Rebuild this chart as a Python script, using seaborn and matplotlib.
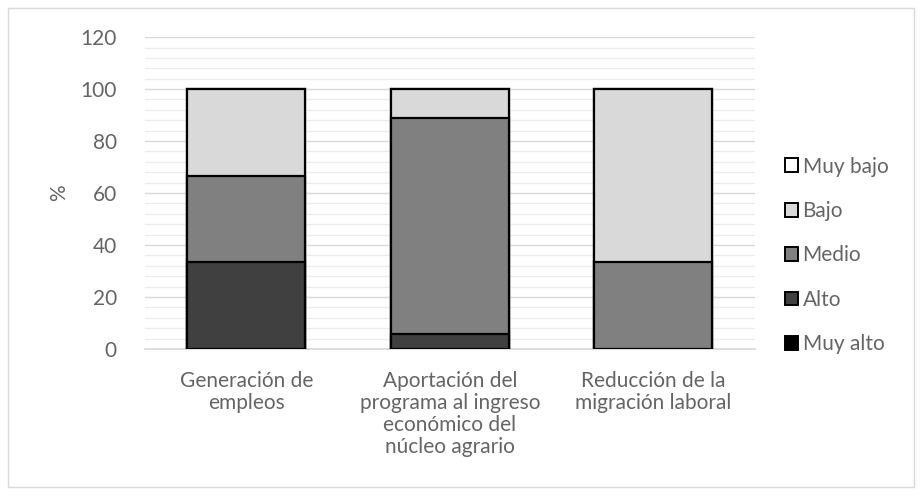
import matplotlib
matplotlib.use("Agg")
import matplotlib.pyplot as plt
from matplotlib.patches import Patch, Rectangle
from matplotlib.ticker import MultipleLocator
import numpy as np
import pandas as pd
import seaborn as sns

categories = [
    "Generación de\nempleos",
    "Aportación del\nprograma al ingreso\neconómico del\nnúcleo agrario",
    "Reducción de la\nmigración laboral",
]
levels = ["Muy alto", "Alto", "Medio", "Bajo", "Muy bajo"]
muy_alto = [0.0, 0.0, 0.0]
alto = [33.3, 5.6, 0.0]
medio = [33.3, 83.3, 33.3]
bajo = [33.4, 11.1, 66.7]
muy_bajo = [0.0, 0.0, 0.0]
yticks = [0, 20, 40, 60, 80, 100, 120]

colors = {
    "Muy alto": "#000000",
    "Alto": "#404040",
    "Medio": "#808080",
    "Bajo": "#d9d9d9",
    "Muy bajo": "#ffffff",
}

series = dict(zip(levels, [muy_alto, alto, medio, bajo, muy_bajo]))
df = pd.DataFrame(series, index=categories)
cum = df.cumsum(axis=1)

sns.set_theme(style="white")
plt.rcParams["font.family"] = ["Lato", "DejaVu Sans"]
text_color = "#656565"
fs = 15

fig = plt.figure(figsize=(9.22, 4.95), dpi=100)
ax = fig.add_axes([0.157, 0.295, 0.662, 0.63])

# stacked bars: draw cumulative totals from the top layer down
for lvl in reversed(levels):
    d = pd.DataFrame({"cat": categories, "val": cum[lvl].values})
    sns.barplot(data=d, x="cat", y="val", color=colors[lvl], ax=ax,
                width=0.58, edgecolor="black", linewidth=1.6,
                saturation=1, zorder=3)

# hide zero-height segments' outlines
for p in ax.patches:
    if p.get_height() == 0:
        p.set_visible(False)

ax.set_ylim(0, 120)
ax.set_xlim(-0.5, 2.5)
ax.yaxis.set_major_locator(MultipleLocator(20))
ax.yaxis.set_minor_locator(MultipleLocator(4))
ax.set_yticks(yticks)
ax.grid(axis="y", which="major", color="#d9d9d9", linewidth=1.0, zorder=0)
ax.grid(axis="y", which="minor", color="#ececec", linewidth=0.9, zorder=0)
ax.set_axisbelow(True)
for s in ["top", "right", "left"]:
    ax.spines[s].set_visible(False)
ax.spines["bottom"].set_color("#d9d9d9")
ax.tick_params(axis="both", which="both", length=0, colors=text_color,
               labelsize=fs)
ax.tick_params(axis="y", pad=20)
ax.tick_params(axis="x", pad=16)
ax.set_xlabel("")
ax.set_ylabel("%", color=text_color, fontsize=fs, labelpad=8)
for t in ax.get_xticklabels():
    t.set_linespacing(1.12)

handles = [Patch(facecolor=colors[l], edgecolor="black", linewidth=1.4, label=l)
           for l in reversed(levels)]
ax.legend(handles=handles, loc="center left", bbox_to_anchor=(1.018, 0.30),
          frameon=False, fontsize=fs, labelcolor=text_color,
          handlelength=0.65, handleheight=0.65, handletextpad=0.2,
          labelspacing=1.17)

fig.patches.append(Rectangle((8 / 922, 8 / 495), 906 / 922, 479 / 495,
                             transform=fig.transFigure, fill=False,
                             edgecolor="#d9d9d9", linewidth=1.0))

fig.savefig("out.png", dpi=100, facecolor="white")
